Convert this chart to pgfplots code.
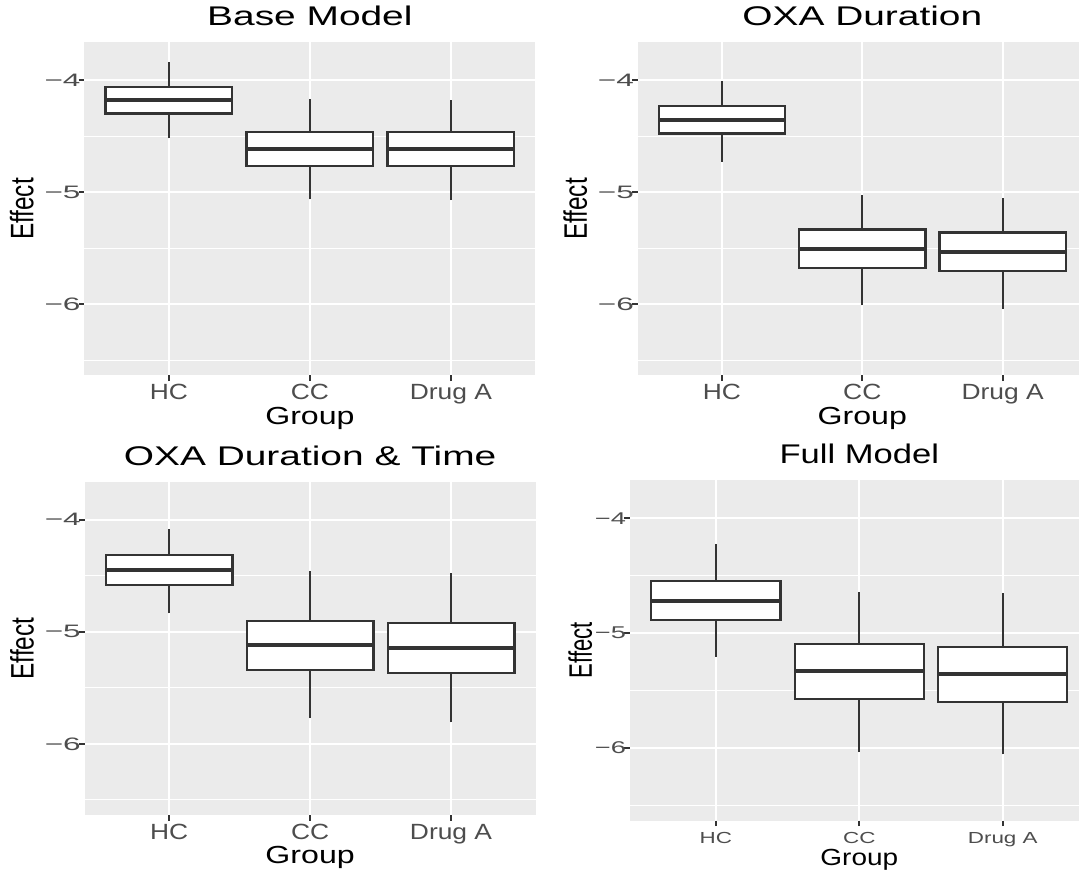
\documentclass[border=0pt]{standalone}
\usepackage{pgfplots}
\pgfplotsset{compat=1.18}
\usepackage{fontspec}
\setmainfont{Liberation Sans}
\newfontfamily\fA{Liberation Sans}[FakeStretch=1.44]
\newfontfamily\fB{Liberation Sans}[FakeStretch=1.2]
\newfontfamily\fC{Liberation Sans}[FakeStretch=1.75]
\newfontfamily\fD{Liberation Sans}[FakeStretch=1.3]
\newfontfamily\fE{Liberation Sans}[FakeStretch=0.75]
\newfontfamily\fF{Liberation Sans}[FakeStretch=1.28]
\newfontfamily\fG{Liberation Sans}[FakeStretch=1.4]
\newfontfamily\fH{Liberation Sans}[FakeStretch=1.6]
\newfontfamily\fJ{Liberation Sans}[FakeStretch=0.68]
\definecolor{bg}{RGB}{235,235,235}
\definecolor{dk}{RGB}{51,51,51}
\definecolor{tickgray}{RGB}{77,77,77}
% \bx{pos}{left}{right}{lower whisker}{lower quartile}{median}{upper quartile}{upper whisker}
\newcommand{\bx}[8]{%
  \addplot[draw=dk, line width=2.2pt] coordinates {(#1,#4) (#1,#5)};
  \addplot[draw=dk, line width=2.2pt] coordinates {(#1,#7) (#1,#8)};
  \addplot[draw=dk, fill=white, line width=2.2pt, line join=miter] coordinates {(#2,#5) (#3,#5) (#3,#7) (#2,#7)} -- cycle;
  \addplot[draw=dk, line width=4pt] coordinates {(#2,#6) (#3,#6)};
}
% tick marks under the categories
\newcommand{\xticks}{%
  \draw[dk, line width=2pt] (axis cs:1,-6.635) -- ++(0pt,-5.7pt);
  \draw[dk, line width=2pt] (axis cs:2,-6.635) -- ++(0pt,-5.7pt);
  \draw[dk, line width=2pt] (axis cs:3,-6.635) -- ++(0pt,-5.7pt);
}
\pgfplotsset{
  ggbase/.style={
    scale only axis,
    anchor=south west,
    clip=false,
    xmin=0.4, xmax=3.6, ymin=-6.635, ymax=-3.665,
    axis x line*=bottom, axis y line*=left, axis line style={draw=none},
    axis background/.style={fill=bg},
    xtick={1,2,3}, ytick={-6,-5,-4}, minor ytick={-6.5,-5.5,-4.5},
    grid=both,
    major grid style={white, line width=2pt},
    minor grid style={white, line width=1pt},
    tick align=outside,
    major tick length=5.7pt, minor tick length=0pt,
    tick style={draw=dk, line width=2pt},
    xticklabels={HC,CC,Drug A},
    yticklabels={−6,−5,−4},
    xticklabel style={text=tickgray, anchor=base, yshift=-18.5pt, inner sep=0pt},
    yticklabel style={text=tickgray, anchor=east, xshift=2pt, inner sep=0pt},
    title style={at={(axis description cs:0.5,1)}, anchor=base, yshift=10.5pt},
    xlabel style={at={(axis description cs:0.5,0)}, anchor=base},
    ylabel style={at={(axis description cs:0,0.5)}, anchor=base},
    xlabel={Group}, ylabel={Effect},
  },
  ggA/.style={
    ggbase,
    title style={font=\fA\fontsize{27}{27}\selectfont},
    xticklabel style={font=\fB\fontsize{22}{22}\selectfont},
    yticklabel style={font=\fC\fontsize{18}{18}\selectfont},
    xlabel style={font=\fD\fontsize{24.7}{24.7}\selectfont, yshift=-48.8pt},
    ylabel style={font=\fE\fontsize{32.5}{32.5}\selectfont, yshift=51pt},
  },
}
\begin{document}
\begin{tikzpicture}
\fill[white] (0,0) rectangle (1079pt,873pt);
\useasboundingbox (0,0) rectangle (1079pt,873pt);
\clip (0,0) rectangle (1079pt,873pt);

% Panel 1
\begin{axis}[ggA, at={(84.4pt,497.5pt)}, width=451pt, height=333pt,
  title={Base Model}]
\bx{1}{0.55}{1.45}{-4.521}{-4.298}{-4.176}{-4.065}{-3.842}
\bx{2}{1.55}{2.45}{-5.065}{-4.765}{-4.616}{-4.461}{-4.173}
\bx{3}{2.55}{3.45}{-5.071}{-4.768}{-4.616}{-4.464}{-4.179}
\xticks
\end{axis}

% Panel 2
\begin{axis}[ggA, at={(637.8pt,497.5pt)}, width=449pt, height=333pt,
  title={OXA Duration}]
\bx{1}{0.55}{1.45}{-4.729}{-4.476}{-4.354}{-4.232}{-4.012}
\bx{2}{1.55}{2.45}{-6.009}{-5.676}{-5.503}{-5.333}{-5.027}
\bx{3}{2.55}{3.45}{-6.039}{-5.702}{-5.530}{-5.360}{-5.048}
\xticks
\end{axis}

% Panel 3
\begin{axis}[ggA, at={(84.6pt,57.9pt)}, width=451pt, height=333pt,
  title={OXA Duration \& Time}]
\bx{1}{0.55}{1.45}{-4.836}{-4.580}{-4.449}{-4.318}{-4.080}
\bx{2}{1.55}{2.45}{-5.771}{-5.342}{-5.119}{-4.902}{-4.461}
\bx{3}{2.55}{3.45}{-5.807}{-5.369}{-5.146}{-4.923}{-4.476}
\xticks
\end{axis}

% Panel 4
\begin{axis}[ggbase, at={(629.8pt,52.5pt)}, width=459pt, height=340.6pt,
  title={Full Model},
  title style={font=\fF\fontsize{27}{27}\selectfont},
  xticklabel style={font=\fG\fontsize{16}{16}\selectfont, yshift=1.3pt},
  yticklabel style={font=\fH\fontsize{17}{17}\selectfont},
  xlabel style={font=\fB\fontsize{23.3}{23.3}\selectfont, yshift=-45pt},
  ylabel style={font=\fJ\fontsize{32.5}{32.5}\selectfont, yshift=38pt}]
\bx{1}{0.55}{1.45}{-5.206}{-4.887}{-4.718}{-4.549}{-4.227}
\bx{2}{1.55}{2.45}{-6.038}{-5.578}{-5.334}{-5.099}{-4.640}
\bx{3}{2.55}{3.45}{-6.058}{-5.605}{-5.358}{-5.119}{-4.654}
\xticks
\end{axis}
\end{tikzpicture}
\end{document}
